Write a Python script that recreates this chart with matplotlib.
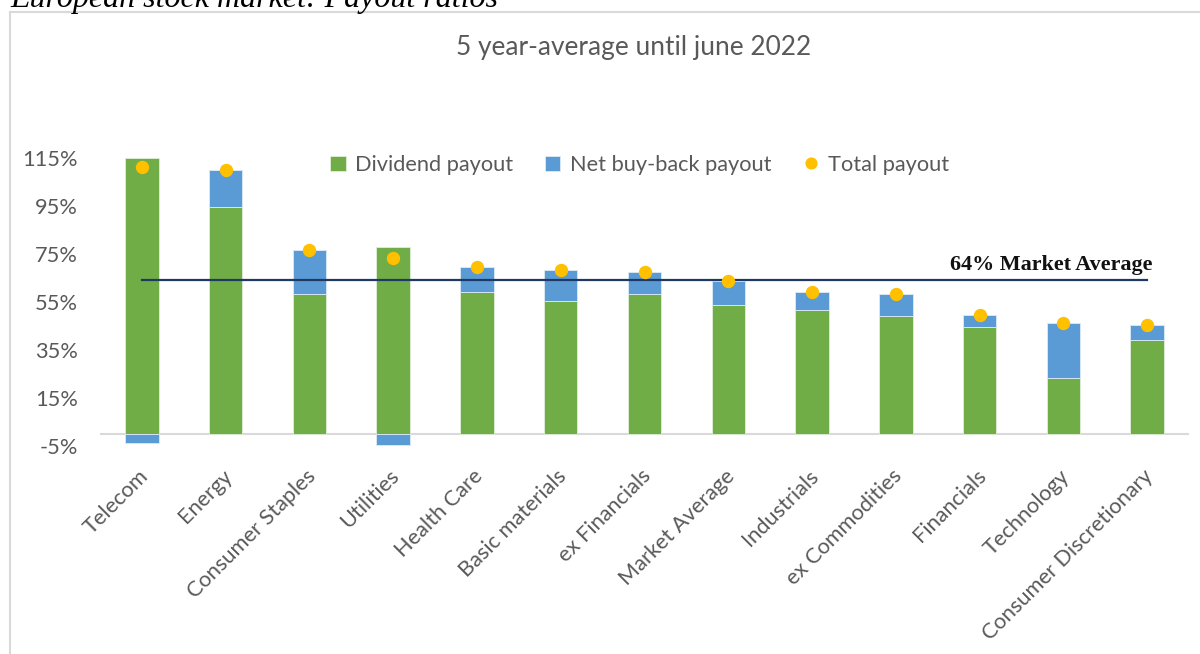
import matplotlib
matplotlib.use("Agg")
import matplotlib.pyplot as plt
from matplotlib.lines import Line2D
from matplotlib.transforms import ScaledTranslation
import numpy as np

# ---- data ----
sectors = ["Telecom", "Energy", "Consumer Staples", "Utilities", "Health Care",
           "Basic materials", "ex Financials", "Market Average", "Industrials",
           "ex Commodities", "Financials", "Technology", "Consumer Discretionary"]
dividend_payout = [115.0, 94.5, 58.5, 77.8, 59.3, 55.3, 58.5, 53.6, 51.5, 49.3, 44.4, 23.3, 39.3]
buyback_payout = [-3.6, 15.4, 18.3, -4.5, 10.4, 13.2, 9.0, 10.0, 7.8, 9.2, 5.0, 22.9, 6.1]
market_average = 64
y_ticks = [-5, 15, 35, 55, 75, 95, 115]

GREEN = "#70AD47"
BLUE = "#5B9BD5"
GOLD = "#FFC000"
NAVY = "#1F3864"
GREY_TXT = "#595959"
FONT = "Lato"
FS = 15.7

W, H = 1200, 654
fig = plt.figure(figsize=(W / 100, H / 100), dpi=100)

# axes placement in pixels
left_px, right_px = 100, 1189
ymin, ymax = -8, 120
px_per_unit = 2.4
zero_px = 434
top_px = zero_px - ymax * px_per_unit
bot_px = zero_px - ymin * px_per_unit
ax = fig.add_axes([left_px / W, 1 - bot_px / H, (right_px - left_px) / W, (bot_px - top_px) / H])

x = np.arange(len(sectors))
div = np.array(dividend_payout)
bb = np.array(buyback_payout)
total = div + bb
bb_bottom = np.where(bb > 0, div, 0)

width = 0.4
b1 = ax.bar(x, div, width, color=GREEN, edgecolor="#E2EFDA", linewidth=0.6, zorder=2,
            label="Dividend payout")
b2 = ax.bar(x, bb, width, bottom=bb_bottom, color=BLUE, edgecolor="#DDEBF7", linewidth=0.6,
            zorder=2, label="Net buy-back payout")
ax.axhline(0, color="#D9D9D9", lw=1.5, zorder=1)
ax.plot([x[0], x[-1]], [market_average, market_average], color=NAVY, lw=1.6, zorder=3)
pts, = ax.plot(x, total, "o", color=GOLD, ms=8.6, zorder=4, label="Total payout")

ax.text(12.07, 68.3, f"{market_average}% Market Average", ha="right", va="baseline",
        family="Liberation Serif", weight="bold", fontsize=15.9, color="#111111")

ax.set_xlim(-0.5, len(sectors) - 0.5)
ax.set_ylim(ymin, ymax)
ax.set_yticks(y_ticks)
ax.set_yticklabels([f"{v}%" for v in y_ticks], family=FONT, fontsize=FS, color=GREY_TXT)
ax.tick_params(axis="y", length=0, pad=16)
ax.set_xticks(x)
ax.set_xticklabels(sectors, rotation=45, ha="right", rotation_mode="anchor",
                   family=FONT, fontsize=FS, color=GREY_TXT)
ax.tick_params(axis="x", length=0, pad=9)
for lab in ax.get_xticklabels():
    lab.set_transform(lab.get_transform() + ScaledTranslation(-0.04, 0, fig.dpi_scale_trans))
for s in ax.spines.values():
    s.set_visible(False)

fig.legend(handles=[b1, b2, pts], loc="center", bbox_to_anchor=(640 / W, 1 - 165 / H),
           ncol=3, frameon=False, prop={"family": FONT, "size": FS},
           labelcolor=GREY_TXT, handlelength=0.7, handleheight=0.7, handletextpad=0.45,
           columnspacing=1.45, markerscale=0.9)

fig.text(634 / W, 1 - 48 / H, "5 year-average until june 2022", ha="center", va="center",
         family=FONT, fontsize=18.9, color=GREY_TXT)

fig.text(10 / W, 1 - 7 / H, "European stock market: Payout ratios", ha="left", va="baseline",
         family="Liberation Serif", style="italic", fontsize=23, color="#000000")

# chart frame
fig.add_artist(Line2D([10 / W, 1], [1 - 12 / H, 1 - 12 / H], color="#D9D9D9", lw=1.5))
fig.add_artist(Line2D([10 / W, 10 / W], [0, 1 - 12 / H], color="#D9D9D9", lw=1.5))

fig.savefig("out.png", dpi=100)
